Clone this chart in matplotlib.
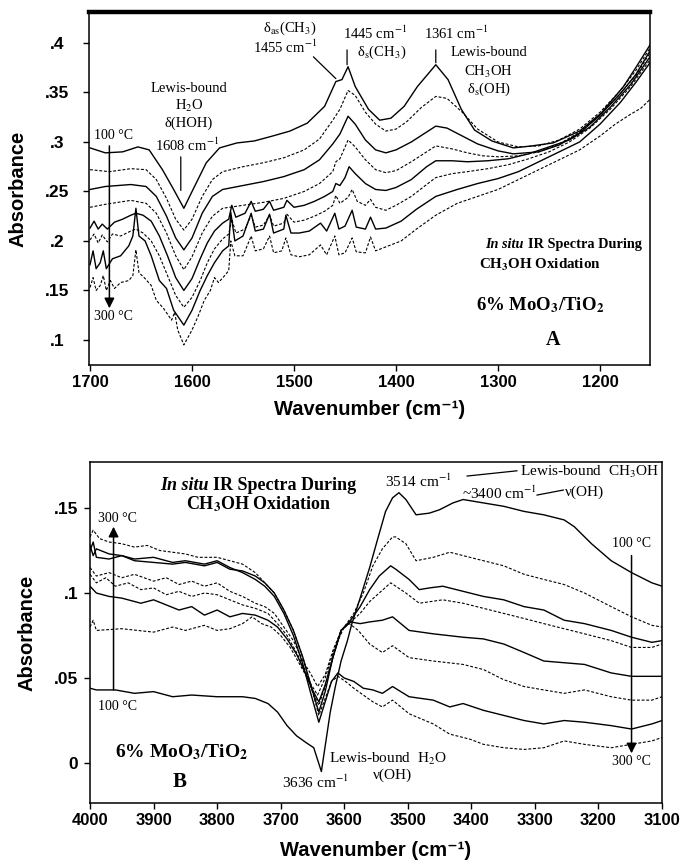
#!/usr/bin/env python3

import matplotlib

matplotlib.use("Agg")
import matplotlib.pyplot as plt

plt.rcParams["font.family"] = ["Liberation Sans", "DejaVu Sans"]
plt.rcParams["mathtext.fontset"] = "stix"

SERIF = ["Liberation Serif", "DejaVu Serif"]
SANS = ["Liberation Sans", "DejaVu Sans"]

# ---------------- panel A: 1700-1150 cm-1, 100 C (top) -> 300 C (bottom)
a1_wn = [1700, 1685, 1668, 1653, 1642, 1629, 1618, 1608, 1599, 1586, 1573, 1556, 1539,
         1521, 1504, 1487, 1470, 1459, 1453, 1447, 1440, 1427, 1416, 1405, 1392, 1379,
         1361, 1349, 1336, 1323, 1306, 1285, 1267, 1246, 1220, 1199, 1177, 1165, 1151]
a1_abs = [.294, .289, .290, .295, .292, .272, .252, .233, .252, .279, .294, .299, .301,
          .306, .311, .319, .336, .361, .363, .376, .356, .333, .322, .324, .336, .356,
          .378, .363, .333, .312, .301, .294, .296, .299, .311, .329, .356, .375, .398]

a2_wn = [1700, 1681, 1660, 1645, 1635, 1625, 1616, 1608, 1600, 1590, 1580, 1570, 1550,
         1530, 1510, 1490, 1475, 1462, 1455, 1447, 1440, 1430, 1420, 1410, 1400, 1390,
         1375, 1361, 1350, 1335, 1320, 1300, 1280, 1260, 1240, 1220, 1200, 1180, 1165, 1151]
a2_abs = [.272, .270, .273, .272, .262, .243, .222, .211, .222, .245, .262, .270, .275,
          .279, .284, .292, .303, .322, .333, .352, .347, .330, .318, .311, .313, .320,
          .335, .346, .344, .330, .313, .300, .295, .296, .302, .313, .330, .352, .372, .395]

a3_wn = [1700, 1685, 1660, 1645, 1635, 1625, 1616, 1608, 1600, 1590, 1580, 1570, 1550,
         1530, 1510, 1490, 1475, 1462, 1455, 1447, 1440, 1430, 1420, 1410, 1400, 1385,
         1370, 1361, 1350, 1335, 1320, 1300, 1285, 1260, 1240, 1220, 1200, 1180, 1165, 1151]
a3_abs = [.252, .255, .257, .255, .245, .225, .203, .191, .203, .228, .245, .252, .256,
          .260, .265, .272, .282, .298, .308, .326, .318, .302, .292, .289, .292, .300,
          .310, .316, .314, .306, .298, .291, .288, .290, .297, .309, .327, .349, .368, .392]

a4_wn = [1700, 1685, 1660, 1645, 1635, 1625, 1616, 1608, 1600, 1590, 1580, 1570, 1550,
         1530, 1510, 1490, 1475, 1462, 1459, 1455, 1447, 1440, 1430, 1420, 1410, 1400,
         1385, 1370, 1361, 1345, 1330, 1315, 1300, 1280, 1260, 1240, 1220, 1200, 1180,
         1165, 1151]
a4_abs = [.234, .237, .241, .238, .228, .208, .185, .171, .184, .208, .225, .233, .236,
          .239, .243, .250, .258, .270, .280, .283, .302, .295, .282, .272, .269, .271,
          .280, .290, .296, .293, .289, .286, .285, .286, .290, .298, .310, .327, .349,
          .367, .390]

a5_wn = [1700, 1696, 1692, 1688, 1683, 1676, 1668, 1660, 1655, 1648, 1640, 1632, 1624,
         1616, 1608, 1600, 1592, 1585, 1578, 1570, 1564, 1561, 1557, 1548, 1542, 1538,
         1530, 1524, 1520, 1510, 1507, 1500, 1490, 1480, 1470, 1462, 1459, 1455, 1450,
         1446, 1440, 1430, 1420, 1410, 1400, 1385, 1370, 1361, 1345, 1330, 1310, 1290,
         1270, 1250, 1230, 1210, 1190, 1170, 1151]
a5_abs = [.213, .220, .212, .217, .212, .219, .222, .226, .228, .226, .220, .205, .185,
          .163, .150, .162, .182, .198, .210, .218, .222, .236, .224, .228, .240, .230,
          .232, .240, .231, .234, .241, .234, .236, .240, .245, .250, .258, .256, .264,
          .275, .268, .258, .252, .251, .254, .262, .275, .281, .281, .280, .281, .283,
          .288, .295, .302, .315, .335, .358, .386]

a6_wn = [1700, 1696, 1692, 1688, 1683, 1678, 1670, 1660, 1655, 1648, 1640, 1632, 1624,
         1616, 1608, 1600, 1592, 1585, 1578, 1570, 1564, 1561, 1557, 1548, 1542, 1538,
         1530, 1524, 1520, 1510, 1507, 1500, 1490, 1480, 1470, 1462, 1459, 1455, 1447,
         1443, 1438, 1430, 1425, 1420, 1410, 1400, 1385, 1370, 1361, 1345, 1330, 1310,
         1290, 1270, 1250, 1230, 1210, 1190, 1170, 1151]
a6_abs = [.201, .207, .198, .206, .199, .207, .205, .210, .212, .208, .200, .185, .165,
          .145, .133, .143, .160, .178, .192, .202, .207, .222, .208, .212, .226, .214,
          .216, .226, .215, .218, .227, .219, .221, .225, .230, .236, .246, .238, .244,
          .252, .240, .236, .242, .234, .231, .236, .245, .257, .264, .268, .270, .273,
          .277, .283, .290, .300, .314, .333, .356, .383]

a7_wn = [1700, 1697, 1694, 1690, 1687, 1684, 1678, 1670, 1662, 1658, 1655, 1652, 1646,
         1640, 1632, 1625, 1618, 1608, 1600, 1592, 1585, 1578, 1570, 1564, 1562, 1558,
         1550, 1542, 1538, 1530, 1524, 1520, 1510, 1508, 1503, 1495, 1485, 1474, 1468,
         1460, 1456, 1450, 1443, 1439, 1430, 1425, 1420, 1410, 1395, 1380, 1361, 1340,
         1320, 1300, 1280, 1260, 1240, 1220, 1200, 1180, 1165, 1151]
a7_abs = [.176, .190, .172, .178, .190, .172, .182, .185, .195, .205, .233, .205, .200,
          .185, .160, .152, .130, .115, .130, .150, .165, .178, .190, .195, .229, .200,
          .205, .228, .210, .212, .227, .208, .212, .226, .208, .208, .210, .218, .210,
          .228, .212, .215, .231, .214, .212, .224, .212, .213, .220, .232, .245, .252,
          .258, .263, .270, .280, .290, .300, .318, .340, .360, .380]

a8_wn = [1700, 1697, 1694, 1690, 1687, 1684, 1680, 1676, 1670, 1662, 1658, 1655, 1652,
         1646, 1640, 1635, 1628, 1620, 1617, 1614, 1608, 1600, 1594, 1588, 1582, 1578,
         1574, 1568, 1564, 1562, 1558, 1550, 1542, 1538, 1530, 1524, 1520, 1512, 1508,
         1503, 1495, 1485, 1474, 1468, 1460, 1456, 1450, 1443, 1439, 1430, 1425, 1420,
         1410, 1395, 1380, 1361, 1340, 1320, 1300, 1280, 1260, 1240, 1220, 1200, 1185,
         1170, 1160, 1151]
a8_abs = [.153, .163, .150, .155, .165, .150, .160, .152, .158, .160, .165, .191, .168,
          .162, .155, .140, .132, .120, .128, .110, .095, .110, .124, .140, .150, .163,
          .158, .165, .170, .200, .185, .185, .205, .190, .192, .205, .188, .190, .203,
          .186, .184, .186, .196, .186, .205, .186, .188, .203, .189, .188, .204, .190,
          .194, .200, .212, .226, .238, .245, .252, .262, .272, .282, .292, .306, .318,
          .328, .334, .343]

# ---------------- panel B: 4000-3100 cm-1
b1_wn = [4000, 3990, 3960, 3930, 3900, 3870, 3840, 3800, 3760, 3740, 3720, 3705, 3690,
         3675, 3660, 3648, 3636, 3630, 3622, 3614, 3605, 3595, 3588, 3575, 3560, 3548,
         3535, 3524, 3514, 3503, 3487, 3466, 3450, 3429, 3413, 3381, 3349, 3317, 3286,
         3254, 3238, 3211, 3180, 3148, 3116, 3100]
b1_abs = [.044, .043, .043, .041, .042, .039, .040, .039, .039, .038, .035, .030, .022,
          .016, .012, .009, -.005, .010, .030, .045, .060, .072, .082, .097, .115, .131,
          .148, .156, .159, .155, .146, .147, .149, .153, .155, .153, .151, .148, .146,
          .143, .139, .129, .119, .112, .106, .104]

b2_wn = [4000, 3995, 3990, 3950, 3900, 3870, 3850, 3820, 3800, 3780, 3760, 3745, 3730,
         3715, 3700, 3685, 3670, 3655, 3642, 3630, 3615, 3600, 3585, 3570, 3555, 3540,
         3524, 3519, 3503, 3487, 3460, 3434, 3413, 3381, 3349, 3317, 3286, 3254, 3222,
         3180, 3148, 3116, 3100]
b2_abs = [.080, .084, .078, .079, .077, .080, .078, .081, .078, .079, .082, .086, .082,
          .080, .075, .068, .058, .048, .040, .050, .068, .080, .088, .100, .116, .126,
          .133, .133, .129, .119, .121, .124, .122, .119, .116, .111, .108, .105, .100,
          .092, .086, .081, .080]

b3_wn = [4000, 3990, 3970, 3950, 3920, 3900, 3880, 3860, 3840, 3820, 3800, 3780, 3760,
         3740, 3720, 3705, 3690, 3675, 3660, 3650, 3640, 3630, 3618, 3605, 3590, 3575,
         3560, 3545, 3527, 3519, 3498, 3482, 3466, 3445, 3413, 3381, 3349, 3317, 3286,
         3254, 3222, 3180, 3148, 3116, 3100]
b3_abs = [.104, .100, .098, .097, .094, .096, .093, .090, .092, .087, .090, .086, .088,
          .087, .084, .080, .073, .064, .052, .043, .036, .046, .062, .078, .084, .092,
          .102, .110, .116, .114, .108, .102, .103, .104, .101, .098, .096, .092, .090,
          .084, .082, .078, .074, .071, .072]

b4_wn = [4000, 3990, 3975, 3960, 3940, 3920, 3900, 3880, 3860, 3840, 3820, 3800, 3780,
         3760, 3740, 3720, 3705, 3690, 3675, 3660, 3650, 3640, 3630, 3618, 3605, 3590,
         3575, 3560, 3545, 3527, 3503, 3482, 3445, 3413, 3381, 3349, 3317, 3286, 3254,
         3222, 3180, 3148, 3116, 3100]
b4_abs = [.111, .106, .109, .104, .106, .102, .103, .099, .101, .098, .100, .099, .096,
          .093, .091, .088, .082, .075, .065, .053, .042, .034, .045, .062, .078, .083,
          .088, .095, .100, .106, .100, .094, .096, .094, .091, .088, .085, .082, .079,
          .076, .072, .068, .068, .070]

b5_wn = [4000, 3995, 3990, 3970, 3950, 3930, 3900, 3870, 3850, 3820, 3800, 3780, 3760,
         3740, 3725, 3710, 3695, 3680, 3665, 3652, 3640, 3630, 3618, 3605, 3590, 3575,
         3560, 3540, 3524, 3498, 3460, 3413, 3381, 3349, 3317, 3286, 3254, 3222, 3180,
         3148, 3116, 3100]
b5_abs = [.125, .130, .121, .120, .122, .119, .118, .117, .118, .116, .118, .114, .113,
          .110, .106, .100, .090, .078, .062, .045, .030, .042, .062, .078, .083, .082,
          .083, .084, .086, .078, .076, .074, .073, .070, .065, .060, .059, .058, .053,
          .051, .051, .051]

b6_wn = [4000, 3990, 3970, 3950, 3930, 3900, 3880, 3860, 3840, 3820, 3800, 3780, 3760,
         3740, 3725, 3710, 3695, 3680, 3665, 3652, 3642, 3630, 3618, 3605, 3592, 3578,
         3560, 3540, 3524, 3498, 3460, 3413, 3381, 3349, 3317, 3286, 3254, 3222, 3180,
         3148, 3116, 3100]
b6_abs = [.115, .110, .112, .109, .111, .107, .109, .105, .107, .104, .106, .101, .098,
          .094, .092, .088, .080, .072, .060, .052, .045, .052, .066, .078, .082, .078,
          .070, .065, .069, .062, .060, .058, .055, .049, .045, .043, .041, .043, .039,
          .037, .037, .039]

b7_wn = [4000, 3995, 3990, 3970, 3950, 3930, 3900, 3870, 3850, 3820, 3800, 3780, 3760,
         3740, 3725, 3710, 3695, 3680, 3665, 3652, 3640, 3630, 3620, 3610, 3600, 3585,
         3570, 3555, 3540, 3524, 3498, 3460, 3434, 3413, 3381, 3349, 3317, 3286, 3254,
         3222, 3180, 3148, 3116, 3100]
b7_abs = [.128, .122, .126, .123, .122, .120, .121, .118, .119, .117, .119, .115, .112,
          .108, .104, .098, .088, .075, .058, .040, .024, .036, .048, .053, .050, .048,
          .044, .043, .041, .045, .039, .037, .033, .035, .031, .028, .025, .023, .025,
          .024, .022, .020, .023, .025]

b8_wn = [4000, 3995, 3985, 3970, 3950, 3930, 3910, 3890, 3870, 3850, 3830, 3800, 3780,
         3760, 3740, 3725, 3710, 3695, 3680, 3665, 3652, 3640, 3630, 3620, 3610, 3598,
         3585, 3570, 3555, 3540, 3524, 3498, 3460, 3434, 3402, 3381, 3349, 3317, 3286,
         3254, 3222, 3180, 3148, 3116, 3100]
b8_abs = [.133, .137, .132, .130, .129, .127, .128, .125, .124, .123, .121, .121, .119,
          .117, .112, .106, .100, .090, .078, .062, .045, .028, .038, .048, .051, .048,
          .044, .040, .036, .033, .037, .029, .023, .017, .014, .011, .009, .008, .009,
          .013, .011, .009, .011, .013, .015]

panel_a = [(a1_wn, a1_abs, "solid"), (a2_wn, a2_abs, "dashed"),
           (a3_wn, a3_abs, "solid"), (a4_wn, a4_abs, "dashed"),
           (a5_wn, a5_abs, "solid"), (a6_wn, a6_abs, "dashed"),
           (a7_wn, a7_abs, "solid"), (a8_wn, a8_abs, "dashed")]
panel_b = [(b1_wn, b1_abs, "solid"), (b2_wn, b2_abs, "dashed"),
           (b3_wn, b3_abs, "solid"), (b4_wn, b4_abs, "dashed"),
           (b5_wn, b5_abs, "solid"), (b6_wn, b6_abs, "dashed"),
           (b7_wn, b7_abs, "solid"), (b8_wn, b8_abs, "dashed")]

a_xticks = [1700, 1600, 1500, 1400, 1300, 1200]
a_yticks = [0.1, 0.15, 0.2, 0.25, 0.3, 0.35, 0.4]
a_ylabels = [".1", ".15", ".2", ".25", ".3", ".35", ".4"]
b_xticks = [4000, 3900, 3800, 3700, 3600, 3500, 3400, 3300, 3200, 3100]
b_yticks = [0, 0.05, 0.1, 0.15]
b_ylabels = ["0", ".05", ".1", ".15"]


def draw_spectra(ax, spectra):
    for wn, ab, style in spectra:
        if style == "solid":
            ax.plot(wn, ab, color="black", lw=1.0, solid_joinstyle="round")
        else:
            ax.plot(wn, ab, color="black", lw=0.8, linestyle=(0, (2.6, 1.6)))


def style_axes(ax, xlim, ylim, xticks, yticks, ylabels, ylab_ha, ylab_pad):
    ax.set_xlim(*xlim)
    ax.set_ylim(*ylim)
    ax.set_xticks(xticks, labels=[str(t) for t in xticks],
                  fontsize=12, fontweight="bold")
    ax.set_yticks(yticks, labels=ylabels, fontsize=12.5, fontweight="bold",
                  ha=ylab_ha)
    ax.tick_params(axis="x", direction="out", length=4, width=1, pad=3.5)
    ax.tick_params(axis="y", direction="out", length=4, width=1, pad=ylab_pad)
    for spine in ax.spines.values():
        spine.set_linewidth(1.1)
    ax.set_xlabel("Wavenumber (cm\u207b\u00b9)", fontsize=14.5, fontweight="bold")
    ax.set_ylabel("Absorbance", fontsize=14.5, fontweight="bold")
    ax.xaxis.label.set_va("center")
    ax.yaxis.label.set_va("center")


def serif_text(ax, x, y, s, size=10.5, **kw):
    ax.text(x, y, s, family=SERIF, fontsize=size, ha=kw.pop("ha", "center"),
            va=kw.pop("va", "center"), **kw)


def leader(ax, p0, p1, lw=0.9):
    ax.annotate("", xy=p1, xytext=p0,
                arrowprops=dict(arrowstyle="-", color="black", lw=lw,
                                shrinkA=0, shrinkB=0))


def temp_arrow(ax, start, tip):
    ax.annotate("", xy=tip, xytext=start,
                arrowprops=dict(arrowstyle="-|>", color="black", lw=1.1,
                                mutation_scale=15, shrinkA=0, shrinkB=0))


def split_title(ax, x, y, size, gap):
    ax.annotate("In situ", xy=(x, y), xytext=(-gap, 0), textcoords="offset points",
                family=SERIF, fontsize=size, fontweight="bold", style="italic",
                ha="right", va="center")
    ax.annotate("IR Spectra During", xy=(x, y), xytext=(gap, 0),
                textcoords="offset points", family=SERIF, fontsize=size,
                fontweight="bold", ha="left", va="center")


def panel_a_notes(ax):
    serif_text(ax, 1504, 0.415, r"δ$_{\rm as}$(CH$_3$)")
    serif_text(ax, 1509, 0.396, r"1455 cm$^{-1}$")
    leader(ax, (1481, 0.386), (1459, 0.364))
    serif_text(ax, 1421, 0.410, r"1445 cm$^{-1}$")
    serif_text(ax, 1414, 0.391, r"δ$_{\rm s}$(CH$_3$)")
    leader(ax, (1448, 0.393), (1448, 0.378))
    serif_text(ax, 1341, 0.410, r"1361 cm$^{-1}$")
    leader(ax, (1361, 0.393), (1361, 0.380))
    serif_text(ax, 1309, 0.390, "Lewis-bound")
    serif_text(ax, 1309, 0.371, r"CH$_3$OH")
    serif_text(ax, 1309, 0.353, r"δ$_{\rm s}$(OH)")
    serif_text(ax, 1603, 0.354, "Lewis-bound")
    serif_text(ax, 1603, 0.336, r"H$_2$O")
    serif_text(ax, 1603, 0.319, "δ(HOH)")
    serif_text(ax, 1605, 0.297, r"1608 cm$^{-1}$")
    leader(ax, (1611, 0.285), (1611, 0.251))
    serif_text(ax, 1677, 0.307, "100 °C", size=10)
    temp_arrow(ax, (1681, 0.296), (1681, 0.132))
    serif_text(ax, 1677, 0.124, "300 °C", size=10)
    split_title(ax, 1273, 0.196, 10.3, 1.4)
    serif_text(ax, 1259, 0.176, r"CH$_\mathbf{3}$OH Oxidation", size=10.8,
               fontweight="bold")
    serif_text(ax, 1259, 0.135, r"6% MoO$_\mathbf{3}$/TiO$_\mathbf{2}$", size=13.5,
               fontweight="bold")
    serif_text(ax, 1246, 0.100, "A", size=14.5, fontweight="bold")


def panel_b_notes(ax):
    split_title(ax, 3810, 0.1635, 13, 1.8)
    serif_text(ax, 3734, 0.152, r"CH$_\mathbf{3}$OH Oxidation", size=13,
               fontweight="bold")
    serif_text(ax, 3957, 0.144, "300 °C", size=10)
    temp_arrow(ax, (3963, 0.043), (3963, 0.139))
    serif_text(ax, 3957, 0.033, "100 °C", size=10)
    serif_text(ax, 3855, 0.0065, r"6% MoO$_\mathbf{3}$/TiO$_\mathbf{2}$", size=14,
               fontweight="bold")
    serif_text(ax, 3859, -0.0111, "B", size=15, fontweight="bold")
    serif_text(ax, 3531, 0.0026, r"Lewis-bound  H$_2$O", size=11)
    serif_text(ax, 3524, -0.0069, "ν(OH)", size=11)
    serif_text(ax, 3645, -0.0111, r"3636 cm$^{-1}$", size=11)
    serif_text(ax, 3483, 0.1655, r"3514 cm$^{-1}$", size=11)
    leader(ax, (3407, 0.1688), (3328, 0.1719))
    serif_text(ax, 3214, 0.1714, r"Lewis-bound  CH$_3$OH", size=11)
    serif_text(ax, 3355, 0.1586, r"~3400 cm$^{-1}$", size=11)
    leader(ax, (3297, 0.1576), (3255, 0.1606))
    serif_text(ax, 3222, 0.159, "ν(OH)", size=11)
    serif_text(ax, 3148, 0.129, "100 °C", size=10)
    temp_arrow(ax, (3148, 0.122), (3148, 0.0057))
    serif_text(ax, 3148, 0.0010, "300 °C", size=10)


def main() -> int:
    fig = plt.figure(figsize=(6.84, 8.68), dpi=100)
    ax_a = fig.add_axes([0.1301, 0.5795, 0.8202, 0.4067])
    ax_b = fig.add_axes([0.1316, 0.0749, 0.8363, 0.3929])

    draw_spectra(ax_a, panel_a)
    style_axes(ax_a, (1701, 1151), (0.0747, 0.4313), a_xticks, a_yticks,
               a_ylabels, "center", 19)
    ax_a.spines["top"].set_linewidth(3.2)
    ax_a.xaxis.set_label_coords(0.5, -0.127)
    ax_a.yaxis.set_label_coords(-0.127, 0.5)
    panel_a_notes(ax_a)

    draw_spectra(ax_b, panel_b)
    style_axes(ax_b, (4000, 3100), (-0.0235, 0.1771), b_xticks, b_yticks,
               b_ylabels, "right", 4.5)
    ax_b.xaxis.set_label_coords(0.5, -0.138)
    ax_b.yaxis.set_label_coords(-0.110, 0.5)
    panel_b_notes(ax_b)

    fig.savefig("out.png", dpi=100)
    plt.close(fig)
    return 0


if __name__ == "__main__":
    raise SystemExit(main())
